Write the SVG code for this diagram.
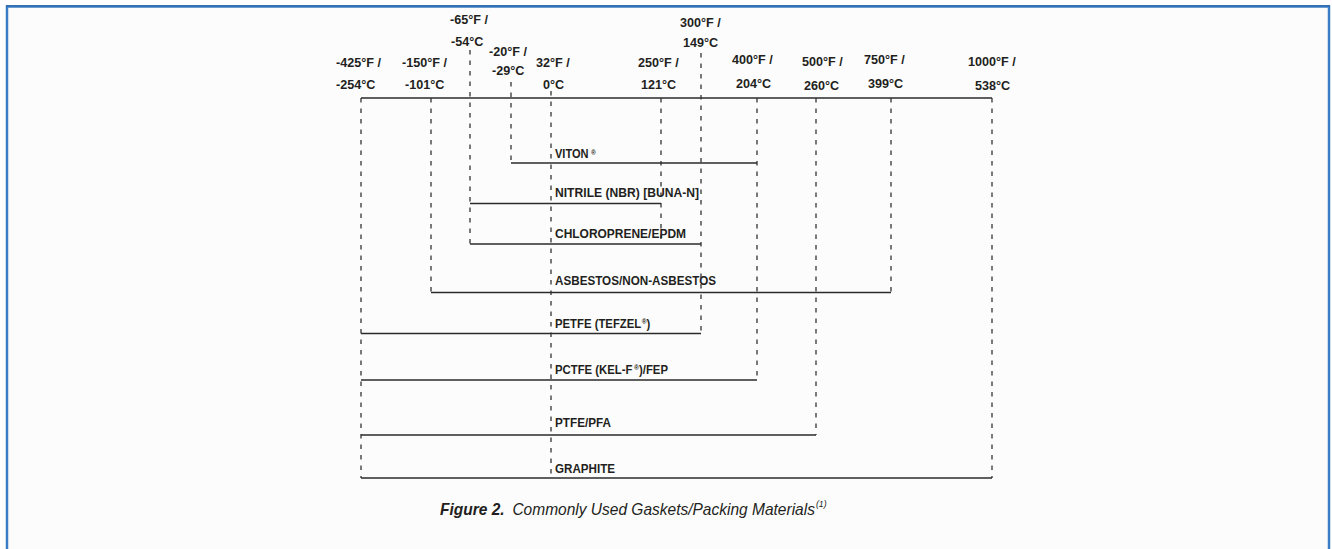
<svg xmlns="http://www.w3.org/2000/svg" width="1332" height="549" viewBox="0 0 1332 549">
<style>
.hd{font-family:"Liberation Sans",Arial,sans-serif;font-weight:bold;font-size:12.6px;fill:#231f20}
.lb{font-family:"Liberation Sans",Arial,sans-serif;font-weight:bold;font-size:13.5px;fill:#231f20}
.r{font-size:8px}
.bar{stroke:#2b2b2b;stroke-width:1.5;fill:none}
.dash{stroke:#333;stroke-width:1.3;stroke-dasharray:4.5 6;fill:none}
.cap{font-family:"Liberation Sans",Arial,sans-serif;font-style:italic;font-size:16px;fill:#231f20}
</style>
<rect x="7" y="6.5" width="1322" height="570" fill="#fcfcfc" stroke="#3b7dc4" stroke-width="2.5"/>
<line x1="6" y1="5.8" x2="1330" y2="5.8" stroke="#1f5c9e" stroke-width="1"/>

<g id="connectors">
  <line class="bar" x1="361" y1="98" x2="992" y2="98"/>
  <line class="dash" x1="361" y1="98" x2="361" y2="478"/>
  <line class="dash" x1="431" y1="98" x2="431" y2="292.5"/>
  <line class="dash" x1="470" y1="50" x2="470" y2="244"/>
  <line class="dash" x1="511" y1="82" x2="511" y2="163"/>
  <line class="dash" x1="551" y1="91" x2="551" y2="478"/>
  <line class="dash" x1="661" y1="98" x2="661" y2="244"/>
  <line class="dash" x1="701" y1="53" x2="701" y2="333.5"/>
  <line class="dash" x1="757" y1="98" x2="757" y2="380"/>
  <line class="dash" x1="816" y1="98" x2="816" y2="435"/>
  <line class="dash" x1="891" y1="98" x2="891" y2="292.5"/>
  <line class="dash" x1="992" y1="98" x2="992" y2="478"/>
</g>

<g id="t-425"><text class="hd" x="336" y="67">-425°F /</text><text class="hd" x="336" y="89">-254°C</text></g>
<g id="t-150"><text class="hd" x="402" y="67">-150°F /</text><text class="hd" x="405" y="89">-101°C</text></g>
<g id="t-65"><text class="hd" x="450" y="24">-65°F /</text><text class="hd" x="451" y="46">-54°C</text></g>
<g id="t-20"><text class="hd" x="489" y="56">-20°F /</text><text class="hd" x="492" y="75">-29°C</text></g>
<g id="t32"><text class="hd" x="536" y="67">32°F /</text><text class="hd" x="543" y="89">0°C</text></g>
<g id="t250"><text class="hd" x="638" y="67">250°F /</text><text class="hd" x="641" y="89">121°C</text></g>
<g id="t300"><text class="hd" x="680" y="27">300°F /</text><text class="hd" x="683" y="47">149°C</text></g>
<g id="t400"><text class="hd" x="732" y="64">400°F /</text><text class="hd" x="736" y="88">204°C</text></g>
<g id="t500"><text class="hd" x="802" y="66">500°F /</text><text class="hd" x="804" y="90">260°C</text></g>
<g id="t750"><text class="hd" x="864" y="64">750°F /</text><text class="hd" x="868" y="88">399°C</text></g>
<g id="t1000"><text class="hd" x="968" y="66">1000°F /</text><text class="hd" x="975" y="90">538°C</text></g>

<g id="viton">
  <line class="bar" x1="511" y1="163" x2="757" y2="163"/>
  <text class="lb" transform="translate(555 158) scale(0.82 1)">VITON<tspan class="r" dx="3" dy="-3">®</tspan></text>
</g>
<g id="nitrile">
  <line class="bar" x1="470" y1="203.5" x2="661" y2="203.5"/>
  <text class="lb" x="555" y="197" textLength="144" lengthAdjust="spacingAndGlyphs">NITRILE (NBR) [BUNA-N]</text>
</g>
<g id="chloroprene">
  <line class="bar" x1="470" y1="244" x2="701" y2="244"/>
  <text class="lb" x="555" y="237.5" textLength="131" lengthAdjust="spacingAndGlyphs">CHLOROPRENE/EPDM</text>
</g>
<g id="asbestos">
  <line class="bar" x1="431" y1="292.5" x2="891" y2="292.5"/>
  <text class="lb" x="555" y="284.5" textLength="161" lengthAdjust="spacingAndGlyphs">ASBESTOS/NON-ASBESTOS</text>
</g>
<g id="petfe">
  <line class="bar" x1="361" y1="333.5" x2="701" y2="333.5"/>
  <text class="lb" transform="translate(555 327.5) scale(0.84 1)">PETFE (TEFZEL<tspan class="r" dx="0.5" dy="-4">®</tspan><tspan dy="4">)</tspan></text>
</g>
<g id="pctfe">
  <line class="bar" x1="361" y1="380" x2="757" y2="380"/>
  <text class="lb" transform="translate(555 373.5) scale(0.84 1)">PCTFE (KEL-F<tspan class="r" dx="2" dy="-4">®</tspan><tspan dy="4">)/FEP</tspan></text>
</g>
<g id="ptfe">
  <line class="bar" x1="361" y1="435" x2="816" y2="435"/>
  <text class="lb" x="555" y="426.5" textLength="56" lengthAdjust="spacingAndGlyphs">PTFE/PFA</text>
</g>
<g id="graphite">
  <line class="bar" x1="361" y1="478" x2="992" y2="478"/>
  <text class="lb" x="555" y="472.5" textLength="60" lengthAdjust="spacingAndGlyphs">GRAPHITE</text>
</g>

<g id="caption">
  <text class="cap" transform="translate(440 515) scale(0.97 1)"><tspan font-weight="bold">Figure 2.</tspan><tspan dx="8">Commonly Used Gaskets/Packing Materials</tspan><tspan font-size="9" dx="1" dy="-8">(1)</tspan></text>
</g>
</svg>
